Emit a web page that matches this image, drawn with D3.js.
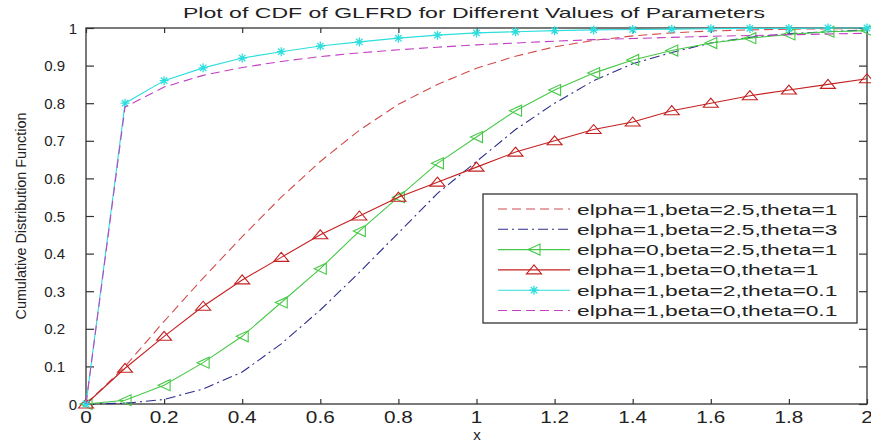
<!DOCTYPE html>
<html>
<head>
<meta charset="utf-8">
<script src="https://cdn.jsdelivr.net/npm/d3@7"></script>
<style>
  body { margin: 0; background: #fff; }
  svg { display: block; }
  text { font-family: "Liberation Sans", Arial, sans-serif; fill: #222; }
</style>
</head>
<body>
<svg id="chart" width="871" height="446"></svg>
<script>
// x positions of the samples
const xValues = [0, 0.1, 0.2, 0.3, 0.4, 0.5, 0.6, 0.7, 0.8, 0.9, 1.0,
                 1.1, 1.2, 1.3, 1.4, 1.5, 1.6, 1.7, 1.8, 1.9, 2.0];

// one array per curve
const cdfA1B25T1 = [0, 0.10, 0.22, 0.335, 0.445, 0.55, 0.645, 0.728, 0.797, 0.85, 0.893,
                    0.925, 0.95, 0.967, 0.979, 0.987, 0.992, 0.995, 0.997, 0.998, 0.999];
const cdfA1B25T3 = [0, 0.002, 0.012, 0.04, 0.085, 0.16, 0.25, 0.35, 0.455, 0.56, 0.645,
                    0.73, 0.80, 0.86, 0.905, 0.935, 0.96, 0.975, 0.985, 0.99, 0.995];
const cdfA0B25T1 = [0, 0.01, 0.05, 0.11, 0.18, 0.27, 0.36, 0.46, 0.55, 0.64, 0.71,
                    0.78, 0.835, 0.88, 0.915, 0.94, 0.96, 0.973, 0.983, 0.99, 0.993];
const cdfA1B0T1  = [0, 0.095, 0.18, 0.26, 0.33, 0.39, 0.45, 0.50, 0.55, 0.59, 0.63,
                    0.67, 0.70, 0.73, 0.75, 0.78, 0.80, 0.82, 0.835, 0.85, 0.865];
const cdfA1B2T01 = [0, 0.80, 0.86, 0.894, 0.92, 0.937, 0.952, 0.963, 0.973, 0.981, 0.987,
                    0.99, 0.993, 0.995, 0.996, 0.997, 0.998, 0.999, 0.999, 1.0, 1.0];
const cdfA1B0T01 = [0, 0.79, 0.843, 0.874, 0.895, 0.911, 0.924, 0.934, 0.942, 0.949, 0.955,
                    0.96, 0.965, 0.969, 0.972, 0.975, 0.978, 0.98, 0.982, 0.984, 0.986];

const legendLabels = [
  'elpha=1,beta=2.5,theta=1',
  'elpha=1,beta=2.5,theta=3',
  'elpha=0,beta=2.5,theta=1',
  'elpha=1,beta=0,theta=1',
  'elpha=1,beta=2,theta=0.1',
  'elpha=1,beta=0,theta=0.1'
];
const xTicks = [0, 0.2, 0.4, 0.6, 0.8, 1, 1.2, 1.4, 1.6, 1.8, 2];
const yTicks = [0, 0.1, 0.2, 0.3, 0.4, 0.5, 0.6, 0.7, 0.8, 0.9, 1];

const series = [
  { values: cdfA1B25T1, color: '#d24a4a', dash: '9,5',        marker: null },
  { values: cdfA1B25T3, color: '#2c2c8c', dash: '10,4,2,4',   marker: null },
  { values: cdfA0B25T1, color: '#46c846', dash: null,         marker: 'left' },
  { values: cdfA1B0T1,  color: '#c42020', dash: null,         marker: 'up' },
  { values: cdfA1B2T01, color: '#2ddede', dash: null,         marker: 'star' },
  { values: cdfA1B0T01, color: '#c23fc2', dash: '9,5',        marker: null }
];

const svg = d3.select('#chart');
const plotLeft = 86, plotRight = 867, plotTop = 28, plotBottom = 404;

const x = d3.scaleLinear().domain([0, 2]).range([plotLeft, plotRight]);
const y = d3.scaleLinear().domain([0, 1]).range([plotBottom, plotTop]);

// stretch text horizontally like the exported figure
function stretch(sel, k) {
  sel.each(function () {
    const w = this.getComputedTextLength();
    d3.select(this).attr('textLength', w * k).attr('lengthAdjust', 'spacingAndGlyphs');
  });
}

// axes box
svg.append('rect')
  .attr('x', plotLeft).attr('y', plotTop)
  .attr('width', plotRight - plotLeft).attr('height', plotBottom - plotTop)
  .attr('fill', 'none').attr('stroke', '#333').attr('stroke-width', 1.3);

// ticks pointing inward on all four sides
const bottomAxis = svg.append('g').attr('transform', `translate(0,${plotBottom})`)
  .call(d3.axisTop(x).tickValues(xTicks).tickSize(5).tickFormat(''));
const topAxis = svg.append('g').attr('transform', `translate(0,${plotTop})`)
  .call(d3.axisBottom(x).tickValues(xTicks).tickSize(5).tickFormat(''));
const leftAxis = svg.append('g').attr('transform', `translate(${plotLeft},0)`)
  .call(d3.axisRight(y).tickValues(yTicks).tickSize(8).tickFormat(''));
const rightAxis = svg.append('g').attr('transform', `translate(${plotRight},0)`)
  .call(d3.axisLeft(y).tickValues(yTicks).tickSize(8).tickFormat(''));
[bottomAxis, topAxis, leftAxis, rightAxis].forEach(g => {
  g.select('.domain').remove();
  g.selectAll('line').attr('stroke', '#333').attr('stroke-width', 1.2);
});

// tick labels
svg.append('g').selectAll('text')
  .data(xTicks).enter().append('text')
  .attr('x', d => x(d)).attr('y', 423)
  .attr('text-anchor', 'middle')
  .attr('font-size', 17)
  .text(d => d3.format('~g')(d))
  .call(stretch, 1.22);

svg.append('g').selectAll('text')
  .data(yTicks).enter().append('text')
  .attr('x', d => (d === 0 || d === 1) ? 77 : 65)
  .attr('y', d => y(d))
  .attr('dominant-baseline', 'central')
  .attr('text-anchor', 'end')
  .attr('font-size', 15)
  .text(d => d3.format('~g')(d));

// curves
const line = d3.line()
  .x((d, i) => x(xValues[i]))
  .y(d => y(d));

function drawMarker(g, type, cx, cy, color) {
  if (type === 'left') {
    g.append('path')
      .attr('d', `M${cx - 6},${cy} L${cx + 6},${cy - 5.5} L${cx + 6},${cy + 5.5} Z`)
      .attr('fill', 'none').attr('stroke', color).attr('stroke-width', 1.1);
  } else if (type === 'up') {
    g.append('path')
      .attr('d', `M${cx},${cy - 5} L${cx + 7.5},${cy + 4} L${cx - 7.5},${cy + 4} Z`)
      .attr('fill', 'none').attr('stroke', color).attr('stroke-width', 1.1);
  } else if (type === 'star') {
    const r = 4.5, q = 3.2;
    g.append('path')
      .attr('d', `M${cx - r},${cy} L${cx + r},${cy} M${cx},${cy - r} L${cx},${cy + r}` +
                 ` M${cx - q},${cy - q} L${cx + q},${cy + q} M${cx - q},${cy + q} L${cx + q},${cy - q}`)
      .attr('stroke', color).attr('stroke-width', 1.3);
  }
}

series.forEach(s => {
  const g = svg.append('g');
  g.append('path')
    .datum(s.values)
    .attr('d', line)
    .attr('fill', 'none')
    .attr('stroke', s.color)
    .attr('stroke-width', 1.1)
    .attr('stroke-dasharray', s.dash);
  if (s.marker) {
    s.values.forEach((v, i) => drawMarker(g, s.marker, x(xValues[i]), y(v), s.color));
  }
});

// legend
const legend = svg.append('g');
legend.append('rect')
  .attr('x', 483).attr('y', 194).attr('width', 374).attr('height', 129)
  .attr('fill', '#fff').attr('stroke', '#333').attr('stroke-width', 1.3);

legendLabels.forEach((label, i) => {
  const s = series[i];
  const ly = 209 + i * 20.3;
  legend.append('line')
    .attr('x1', 498).attr('x2', 570).attr('y1', ly).attr('y2', ly)
    .attr('stroke', s.color).attr('stroke-width', 1.1)
    .attr('stroke-dasharray', s.dash);
  if (s.marker) drawMarker(legend, s.marker, 534, ly, s.color);
  legend.append('text')
    .attr('x', 577).attr('y', ly)
    .attr('dominant-baseline', 'central')
    .attr('font-size', 15.5)
    .text(label)
    .call(stretch, 1.47);
});

// titles
svg.append('text')
  .attr('x', 474).attr('y', 18)
  .attr('text-anchor', 'middle')
  .attr('font-size', 15)
  .attr('textLength', 582).attr('lengthAdjust', 'spacingAndGlyphs')
  .text('Plot of CDF of GLFRD for Different Values of Parameters');

svg.append('text')
  .attr('x', 477).attr('y', 440)
  .attr('text-anchor', 'middle')
  .attr('font-size', 15)
  .text('x');

svg.append('text')
  .attr('transform', 'translate(26,216) rotate(-90)')
  .attr('text-anchor', 'middle')
  .attr('font-size', 15)
  .attr('textLength', 207).attr('lengthAdjust', 'spacingAndGlyphs')
  .text('Cumulative Distribution Function');
</script>
</body>
</html>
